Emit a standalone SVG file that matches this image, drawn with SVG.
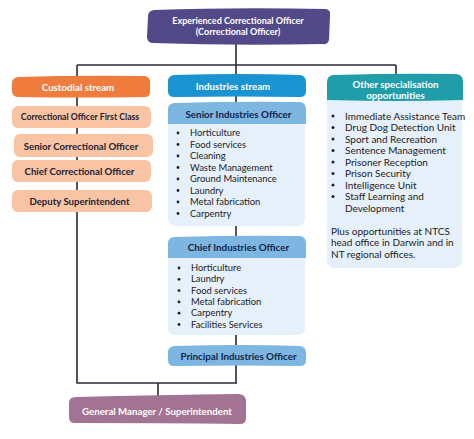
<svg xmlns="http://www.w3.org/2000/svg" width="474" height="439" viewBox="0 0 474 439">
<style>
text{font-family:Lato,"Open Sans","Liberation Sans",sans-serif;}
.w{fill:#ffffff;font-weight:bold;font-size:9.7px;text-anchor:middle;}
.t{font-size:9px;}
.d{fill:#1e2133;font-weight:bold;font-size:9.6px;text-anchor:middle;}
.n{fill:#12254a;font-weight:bold;font-size:9.8px;text-anchor:middle;}
.b{fill:#222;font-size:9.4px;}
.o{fill:#222;font-size:10px;}
.dot{fill:#222;}
.ln{stroke:#2b2b38;stroke-width:1.6;fill:none;}
.peach{fill:#f8c4a3;}
.hdr{fill:#7db6e1;}
.body{fill:#e6f0fa;}
</style>
<rect width="474" height="439" fill="#ffffff"/>
<g id="connectors">
<path class="ln" d="M236 43V65M77 65H396M77 65V383H237M236 65V383M396 65V76M158 383V397"/>
</g>
<g id="top">
<path d="M154 10 Q236 7 326 9 Q331 10 330 16 L329 40 Q328 45 322 44 Q236 46 152 43 Q147 42 147 37 L148 16 Q148 11 154 10Z" fill="#524a88"/>
<text class="w t" x="238" y="24">Experienced Correctional Officer</text>
<text class="w t" x="238" y="35">(Correctional Officer)</text>
</g>
<g id="custodial">
<path d="M18 77 Q80 75 145 76 Q150 77 150 82 L150 92 Q150 97 145 97 Q80 98 17 97 Q12 96 12 91 L12 83 Q12 78 18 77Z" fill="#ef7c3d"/>
<text class="w" x="78" y="91">Custodial stream</text>
</g>
<g id="co1">
<rect class="peach" x="12" y="106" width="139" height="22" rx="6"/>
<text class="d" x="80" y="120" style="font-size:8.7px">Correctional Officer First Class</text>
</g>
<g id="sco">
<rect class="peach" x="14" y="134" width="139" height="23" rx="6"/>
<text class="d" x="81" y="149.5">Senior Correctional Officer</text>
</g>
<g id="cco">
<rect class="peach" x="12" y="160" width="139" height="22" rx="6"/>
<text class="d" x="79.5" y="174.5">Chief Correctional Officer</text>
</g>
<g id="ds">
<rect class="peach" x="12" y="190" width="140" height="22" rx="6"/>
<text class="d" x="79.5" y="204.5">Deputy Superintendent</text>
</g>
<g id="industries">
<path d="M174 75 Q240 73 300 75 Q306 76 306 82 L306 91 Q306 97 300 97 Q240 96 174 97 Q168 97 168 91 L168 81 Q168 76 174 75Z" fill="#1a93d3"/>
<text class="w" x="233" y="89.5">Industries stream</text>
</g>
<g id="sio">
<rect class="body" x="168" y="118" width="137" height="108" rx="7"/>
<path class="hdr" d="M174 103 Q240 101 300 102 Q306 103 306 109 L306 124 L168 124 L168 109 Q168 104 174 103Z"/>
<text class="n" x="238.5" y="117.5">Senior Industries Officer</text>
<g class="b">
<text x="190" y="136">Horticulture</text>
<text x="190" y="147.5">Food services</text>
<text x="190" y="159">Cleaning</text>
<text x="190" y="170.5">Waste Management</text>
<text x="190" y="182">Ground Maintenance</text>
<text x="190" y="193.5">Laundry</text>
<text x="190" y="205">Metal fabrication</text>
<text x="190" y="216.5">Carpentry</text>
</g>
<g class="dot">
<circle cx="178" cy="133" r="1.4"/><circle cx="178" cy="144.5" r="1.4"/><circle cx="178" cy="156" r="1.4"/><circle cx="178" cy="167.5" r="1.4"/><circle cx="178" cy="179" r="1.4"/><circle cx="178" cy="190.5" r="1.4"/><circle cx="178" cy="202" r="1.4"/><circle cx="178" cy="213.5" r="1.4"/>
</g>
</g>
<g id="cio">
<rect class="body" x="168" y="250" width="137" height="85" rx="7"/>
<path class="hdr" d="M174 237 Q240 235 300 236 Q306 237 306 243 L306 258 L168 258 L168 243 Q168 238 174 237Z"/>
<text class="n" x="238.5" y="251">Chief Industries Officer</text>
<g class="b">
<text x="191" y="271">Horticulture</text>
<text x="191" y="282.3">Laundry</text>
<text x="191" y="293.6">Food services</text>
<text x="191" y="304.9">Metal fabrication</text>
<text x="191" y="316.2">Carpentry</text>
<text x="191" y="327.5">Facilities Services</text>
</g>
<g class="dot">
<circle cx="179" cy="268" r="1.4"/><circle cx="179" cy="279.3" r="1.4"/><circle cx="179" cy="290.6" r="1.4"/><circle cx="179" cy="301.9" r="1.4"/><circle cx="179" cy="313.2" r="1.4"/><circle cx="179" cy="324.5" r="1.4"/>
</g>
</g>
<g id="pio">
<path class="hdr" d="M174 346 Q240 344 300 346 Q306 347 306 353 L306 360 Q306 366 300 366 Q240 365 174 366 Q168 366 168 360 L168 352 Q168 347 174 346Z"/>
<text class="n" x="238.5" y="359.5">Principal Industries Officer</text>
</g>
<g id="other">
<rect class="body" x="327" y="92" width="135" height="176" rx="8"/>
<path d="M333 75 Q400 73 456 74 Q463 75 463 81 L463 100 Q400 102 327 100 L327 82 Q327 76 333 75Z" fill="#1f9ea9"/>
<text class="w" x="395.5" y="87.5">Other specialisation</text>
<text class="w" x="395.5" y="98.5">opportunities</text>
<g class="o">
<text x="345" y="119.5">Immediate Assistance Team</text>
<text x="345" y="131">Drug Dog Detection Unit</text>
<text x="345" y="142.5">Sport and Recreation</text>
<text x="345" y="154">Sentence Management</text>
<text x="345" y="165.5">Prisoner Reception</text>
<text x="345" y="177">Prison Security</text>
<text x="345" y="188.5">Intelligence Unit</text>
<text x="345" y="200">Staff Learning and</text>
<text x="345" y="211.5">Development</text>
<text x="331" y="234.5">Plus opportunities at NTCS</text>
<text x="331" y="246">head office in Darwin and in</text>
<text x="331" y="257.5">NT regional offices.</text>
</g>
<g class="dot">
<circle cx="333" cy="116" r="1.5"/><circle cx="333" cy="127.5" r="1.5"/><circle cx="333" cy="139" r="1.5"/><circle cx="333" cy="150.5" r="1.5"/><circle cx="333" cy="162" r="1.5"/><circle cx="333" cy="173.5" r="1.5"/><circle cx="333" cy="185" r="1.5"/><circle cx="333" cy="196.5" r="1.5"/>
</g>
</g>
<g id="gm">
<path d="M76 397 Q160 395 238 394 Q245 394 246 400 L246 418 Q246 424 240 424 Q160 423 75 423 Q69 423 69 417 L69 403 Q69 397 76 397Z" fill="#a27392"/>
<text class="w" x="157" y="414.5">General Manager / Superintendent</text>
</g>
</svg>
